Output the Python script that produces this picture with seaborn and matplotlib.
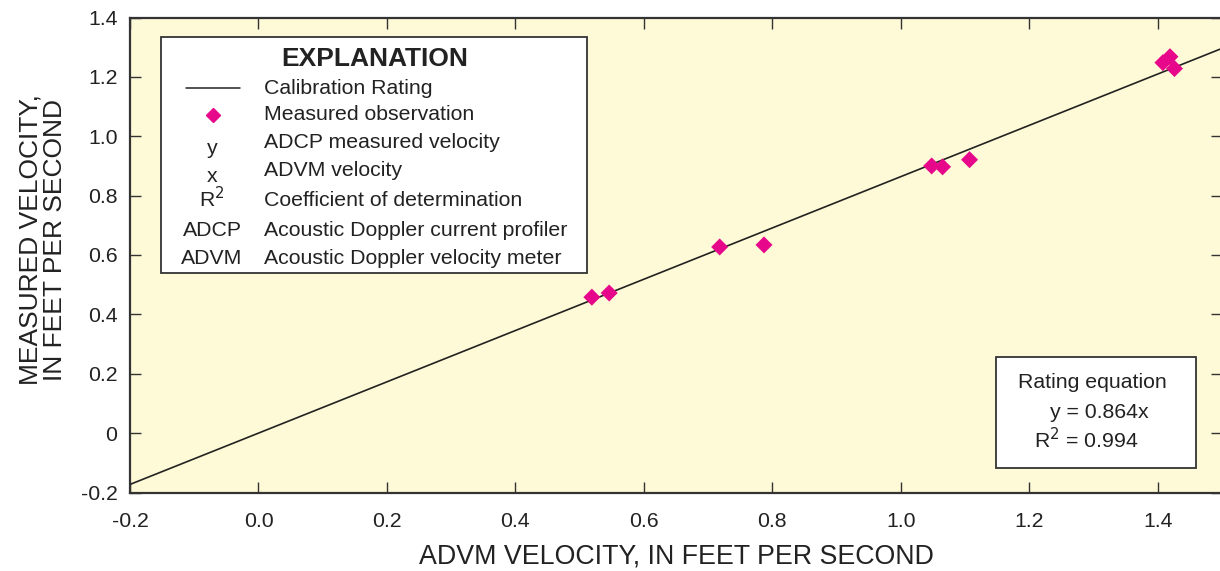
import matplotlib
matplotlib.use("Agg")
import matplotlib.pyplot as plt
import seaborn as sns
import numpy as np
import pandas as pd
from matplotlib.patches import Rectangle
from matplotlib.lines import Line2D

# ---- data ----
advm_velocity = [0.519, 0.546, 0.718, 0.787, 1.048, 1.065, 1.107, 1.408, 1.419, 1.426]
adcp_velocity = [0.458, 0.472, 0.627, 0.634, 0.900, 0.897, 0.921, 1.248, 1.268, 1.228]
slope = 0.864
r2 = 0.994
rating_x = [-0.2, 1.5]
x_ticks = [-0.2, 0.0, 0.2, 0.4, 0.6, 0.8, 1.0, 1.2, 1.4]
x_ticklabels = ["-0.2", "0.0", "0.2", "0.4", "0.6", "0.8", "1.0", "1.2", "1.4"]
y_ticks = [-0.2, 0, 0.2, 0.4, 0.6, 0.8, 1.0, 1.2, 1.4]
y_ticklabels = ["-0.2", "0", "0.2", "0.4", "0.6", "0.8", "1.0", "1.2", "1.4"]

sns.set_theme(style="ticks")
plt.rcParams["font.family"] = ["Liberation Sans", "DejaVu Sans"]

BG = "#FEF9D6"
MAG = "#E6078A"
EDGE = "#333333"
TXT = "#222222"
FS = 15.3

fig = plt.figure(figsize=(12.2, 5.71), dpi=100)
ax = fig.add_axes([130 / 1220, 1 - 492.5 / 571, 1092 / 1220, (492.5 - 17.5) / 571])
ax.set_facecolor(BG)

df = pd.DataFrame({"x": advm_velocity, "y": adcp_velocity})
line_df = pd.DataFrame({"x": rating_x, "y": [slope * v for v in rating_x]})

sns.lineplot(data=line_df, x="x", y="y", ax=ax, color=TXT, linewidth=1.2, zorder=3)
sns.scatterplot(data=df, x="x", y="y", ax=ax, marker="D", s=75, color=MAG,
                edgecolor="none", zorder=4)

ax.set_xlim(-0.2, 1.5)
ax.set_ylim(-0.2, 1.4)
ax.set_xticks(x_ticks)
ax.set_xticklabels(x_ticklabels)
ax.set_yticks(y_ticks)
ax.set_yticklabels(y_ticklabels)
ax.tick_params(direction="in", length=8, width=1.0, color=EDGE, labelsize=FS,
               top=True, right=True, labelcolor=TXT)
ax.tick_params(axis="x", pad=14)
ax.tick_params(axis="y", pad=9)
for s in ax.spines.values():
    s.set_color(EDGE)
    s.set_linewidth(1.6)

ax.set_xlabel("ADVM VELOCITY, IN FEET PER SECOND", fontsize=19.3, color=TXT, labelpad=9)
ax.set_ylabel("MEASURED VELOCITY,\nIN FEET PER SECOND", fontsize=19, color=TXT,
              linespacing=1.0)
ax.yaxis.set_label_coords(-0.058, 0.532)

# ---- explanation box ----
def px(xp, yp):
    # convert figure pixel coords (top-left origin) to axes fraction
    x0, y0 = 130, 492.5
    return (xp - x0) / 1092, (y0 - yp) / 475

bx0, by0 = px(161, 273)
bx1, by1 = px(587, 37)
ax.add_patch(Rectangle((bx0, by0), bx1 - bx0, by1 - by0, transform=ax.transAxes,
                       facecolor="white", edgecolor=EDGE, linewidth=1.3, zorder=5))
tx, ty = px(375, 59)
ax.text(tx, ty, "EXPLANATION", transform=ax.transAxes, ha="center", va="center",
        fontsize=19, fontweight="bold", color=TXT, zorder=6)

lx0, ly = px(186, 88)
lx1, _ = px(240, 88)
ax.add_line(Line2D([lx0, lx1], [ly, ly], transform=ax.transAxes, color=TXT,
                   linewidth=1.1, zorder=6))
mx, my = px(213, 115)
ax.add_line(Line2D([mx], [my], transform=ax.transAxes, marker="D", markersize=7,
                   color=MAG, linestyle="none", zorder=6))

entries = [
    (88, "Calibration Rating", None, None),
    (115, "Measured observation", None, None),
    (142, "ADCP measured velocity", "y", 148),
    (171, "ADVM velocity", "x", 176),
    (201, "Coefficient of determination", "R$^{2}$", 199),
    (230, "Acoustic Doppler current profiler", "ADCP", 230),
    (259, "Acoustic Doppler velocity meter", "ADVM", 259),
]
for yp, label, sym, syp in entries:
    ex, ey = px(264, yp)
    ax.text(ex, ey, label, transform=ax.transAxes, ha="left", va="center",
            fontsize=FS, color=TXT, zorder=6)
    if sym is not None:
        sx, sy = px(212, syp)
        ax.text(sx, sy, sym, transform=ax.transAxes, ha="center", va="center",
                fontsize=FS, color=TXT, zorder=6)

# ---- rating equation box ----
rx0, ry0 = px(996, 468)
rx1, ry1 = px(1196, 357)
ax.add_patch(Rectangle((rx0, ry0), rx1 - rx0, ry1 - ry0, transform=ax.transAxes,
                       facecolor="white", edgecolor=EDGE, linewidth=1.3, zorder=5))
for xp, yp, txt, ha in [(1018, 383, "Rating equation", "left"),
                        (1050, 412, f"y = {slope:.3f}x", "left"),
                        (1034, 440, f"R$^{{2}}$ = {r2:.3f}", "left")]:
    cx, cy = px(xp, yp)
    ax.text(cx, cy, txt, transform=ax.transAxes, ha=ha, va="center",
            fontsize=FS, color=TXT, zorder=6)

fig.savefig("out.png", dpi=100, facecolor="white")
